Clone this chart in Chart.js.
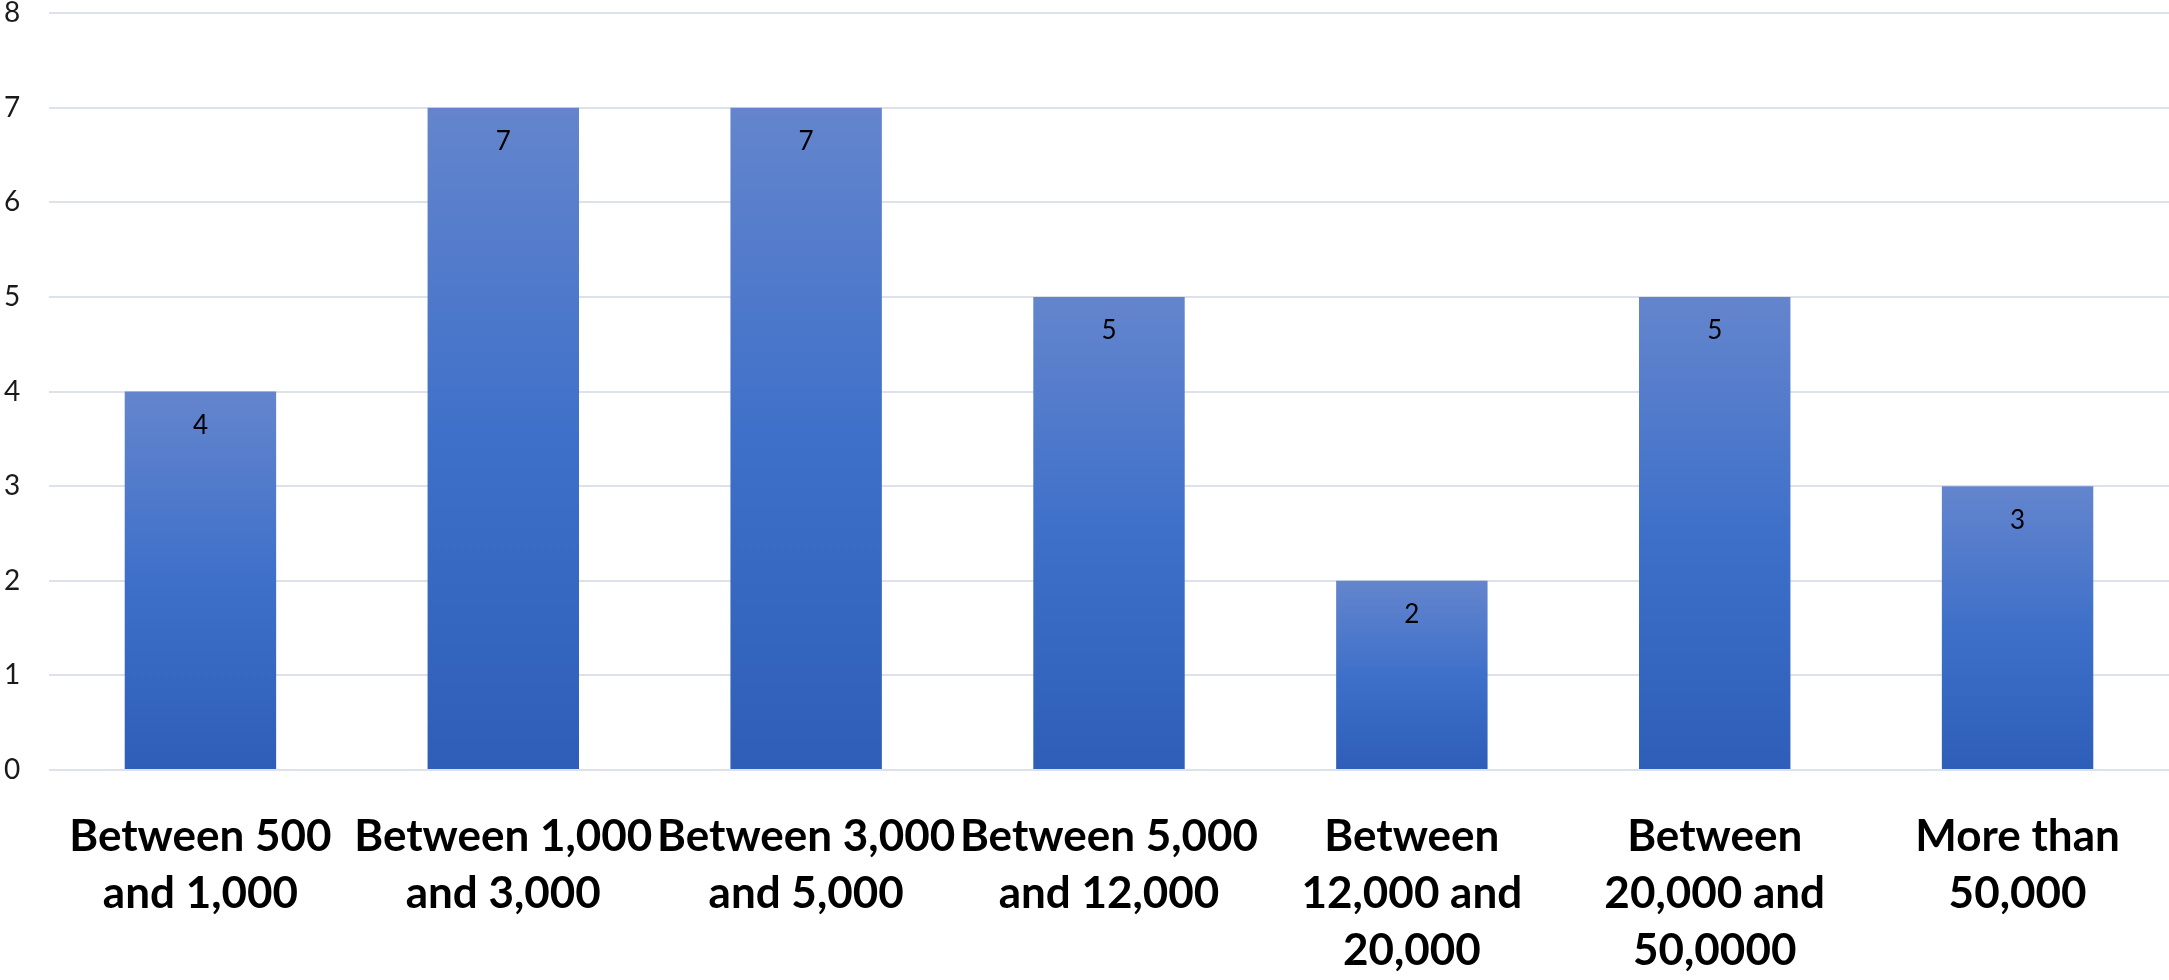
<!DOCTYPE html>
<html>
<head>
<meta charset="utf-8">
<script src="https://cdn.jsdelivr.net/npm/chart.js@4"></script>
<style>
  html, body { margin: 0; padding: 0; background: #fff; }
  #wrap { width: 2169px; height: 980px; position: relative; }
</style>
</head>
<body>
<div id="wrap"><canvas id="chart"></canvas></div>
<script>
const categories = [
  ['Between 500', 'and 1,000'],
  ['Between 1,000', 'and 3,000'],
  ['Between 3,000', 'and 5,000'],
  ['Between 5,000', 'and 12,000'],
  ['Between', '12,000 and', '20,000'],
  ['Between', '20,000 and', '50,0000'],
  ['More than', '50,000'],
];
const counts = [4, 7, 7, 5, 2, 5, 3];
const yTicks = [0, 1, 2, 3, 4, 5, 6, 7, 8];

const FONT = 'Lato, "Open Sans", sans-serif';

// excel-ish gradient, lighter at the top of each bar
function barFill(ctx) {
  const chart = ctx.chart;
  if (!chart.chartArea || ctx.dataIndex === undefined) return '#3d70c9';
  const y = chart.scales.y;
  const top = y.getPixelForValue(counts[ctx.dataIndex]);
  const bottom = y.getPixelForValue(0);
  const g = chart.ctx.createLinearGradient(0, top, 0, bottom);
  g.addColorStop(0, '#6485cd');
  g.addColorStop(0.5, '#3e70c9');
  g.addColorStop(1, '#2e5eb8');
  return g;
}

const valueLabels = {
  id: 'valueLabels',
  afterDatasetsDraw(chart) {
    const c = chart.ctx;
    const meta = chart.getDatasetMeta(0);
    c.save();
    c.font = `26px ${FONT}`;
    c.fillStyle = '#000';
    c.textAlign = 'center';
    c.textBaseline = 'middle';
    meta.data.forEach((bar, i) => c.fillText(String(counts[i]), bar.x, bar.y + 34));
    c.restore();
  }
};

new Chart(document.getElementById('chart'), {
  type: 'bar',
  data: {
    labels: categories,
    datasets: [{ data: counts, backgroundColor: barFill, categoryPercentage: 1, barPercentage: 0.5 }]
  },
  options: {
    responsive: true, maintainAspectRatio: false, animation: false,
    layout: { padding: { left: 4, right: 0, top: 0, bottom: 0 } },
    plugins: { legend: { display: false }, tooltip: { enabled: false } },
    scales: {
      x: {
        afterFit: s => { s.height = 210; },
        grid: { display: false, drawTicks: false },
        border: { display: false },
        ticks: {
          color: '#000', padding: 38, maxRotation: 0, autoSkip: false,
          font: { family: FONT, size: 44, weight: 'bold', lineHeight: 1.3 }
        }
      },
      y: {
        min: 0, max: 8,
        afterBuildTicks: s => { s.ticks = yTicks.map(v => ({ value: v })); },
        afterFit: s => { s.width = 45; },
        grid: { color: '#dde2ea', lineWidth: 2, drawTicks: false },
        border: { display: false },
        ticks: { color: '#1a1a1a', padding: 0, crossAlign: 'far', font: { family: FONT, size: 28, lineHeight: 0.93 } }
      }
    }
  },
  plugins: [valueLabels]
});
</script>
</body>
</html>
